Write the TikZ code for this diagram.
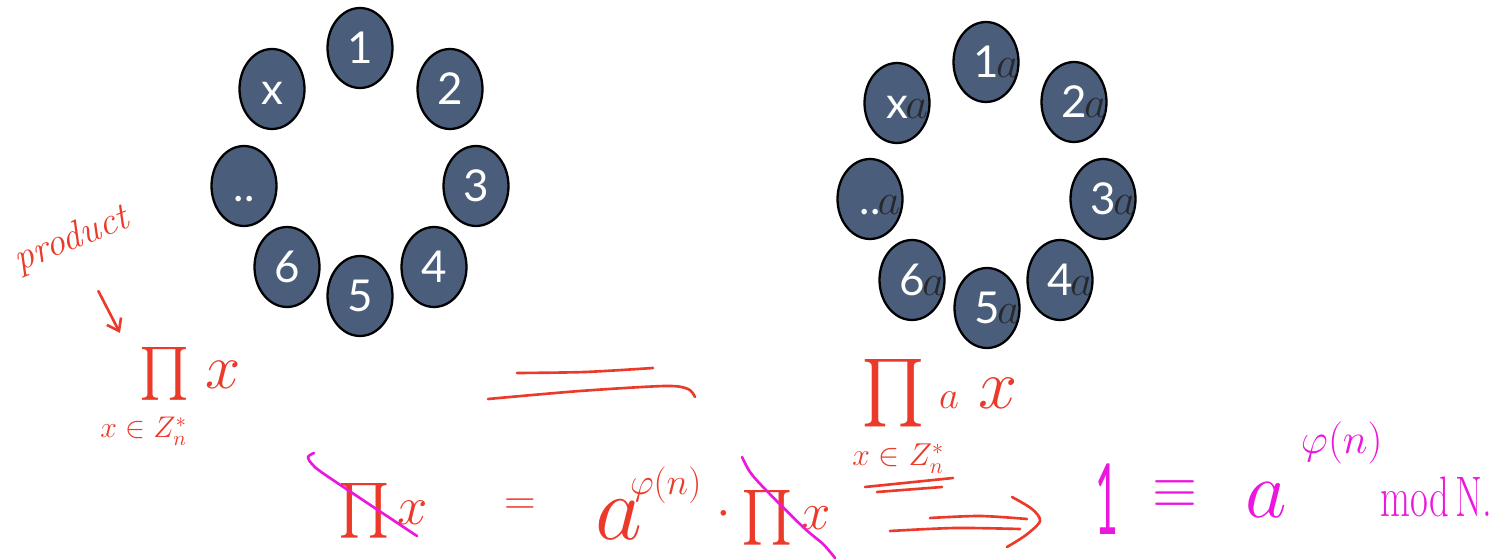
\RequirePackage{fix-cm}
\documentclass[tikz,border=0pt]{standalone}
\usepackage{exscale}
\usepackage{fontspec}
\setsansfont{Lato}
\usepackage{tikz}
\usetikzlibrary{arrows.meta,shapes.geometric}
\definecolor{slate}{RGB}{74,94,124}
\definecolor{pred}{RGB}{236,58,42}
\definecolor{pmag}{RGB}{236,22,222}
\definecolor{aink}{RGB}{40,40,44}
\newcommand{\fsz}[1]{\fontsize{#1}{#1}\selectfont}
\newcommand{\numa}[1]{#1\rlap{\kern-1.5pt\textcolor{aink}{$a$}}}
\newcommand{\bigP}[1]{\scalebox{#1}{\fsz{20}$\prod$}}

\begin{document}
\begin{tikzpicture}[x=0.02cm, y=-0.02cm,
  ring/.style={ellipse, draw=black, line width=1.3pt, fill=slate, minimum width=1.3cm, minimum height=1.6cm, inner sep=0pt, text=white, font=\sffamily\fsz{25}, text height=18pt, text depth=0pt},
  hand/.style={text=pred, inner sep=0pt}, mhand/.style={text=pmag, inner sep=0pt},
  pen/.style={draw=pred, line width=1.5pt, line cap=round, line join=round}, mpen/.style={pen, draw=pmag},
  arr/.style={-{Straight Barb[length=2.2mm, width=3.2mm]}}]
  \useasboundingbox (0,0) rectangle (1512,560);
  % left ring
  \node[ring] (l1) at (360,48) {1};
  \node[ring] (l2) at (450,89) {2};
  \node[ring] (l3) at (476,186) {3};
  \node[ring] (l4) at (434,267) {4};
  \node[ring] (l5) at (360,296) {5};
  \node[ring] (l6) at (287,267) {6};
  \node[ring] (ldots) at (244,186) {..};
  \node[ring] (lx) at (272,89) {x};
  % right ring, each times a
  \node[ring] (r1) at (986,62) {\numa{1}};
  \node[ring] (r2) at (1074,102) {\numa{2}};
  \node[ring] (r3) at (1103,199) {\numa{3}};
  \node[ring] (r4) at (1060,280) {\numa{4}};
  \node[ring] (r5) at (987,308) {\numa{5}};
  \node[ring] (r6) at (912,280) {\numa{6}};
  \node[ring] (rdots) at (870,199) {\numa{..}};
  \node[ring] (rx) at (897,103) {\numa{x}};
  % red ink
  \node[hand, rotate=22, font=\itshape\fsz{22}] (product) at (72,240) {product};
  \coordinate (tip) at (120,333);
  \draw[pen, arr, shorten <=0.8cm] (product) -- (tip);
  \node[hand, anchor=base west] (prodL) at (139,387) {\bigP{1.45}\hspace{9pt}\raisebox{-1pt}{\fsz{36}$x$}};
  \node[hand, anchor=base west, font=\fsz{17}] (subL) at (100,438) {$x\in Z_n^*$};
  \draw[pen] plot[smooth] coordinates {(517,373) (585,372) (653,368)};
  \draw[pen] plot[smooth] coordinates {(488,399) (580,391) (665,386) (688,389) (695,397)};
  \node[hand, anchor=base west] (prodR) at (861,409) {\bigP{1.85}\hspace{8pt}{\fsz{22}$a$}\hspace{11pt}{\fsz{40}$x$}};
  \node[hand, anchor=base west] (prodA) at (338,524) {\bigP{1.5}\hspace{4.5pt}{\fsz{31}$x$}};
  \node[hand, font=\fsz{25}] (eqA) at (520,507) {$=$};
  \node[hand, anchor=base west, font=\fsz{52}] (powA) at (595,540) {$a^{\kern-7pt\raisebox{7pt}{\fsz{21}$\varphi(n)$}}$};
  \node[hand, font=\fsz{30}] (dotA) at (724,515) {$\cdot$};
  \node[hand, anchor=base west] (prodB) at (741,531) {\bigP{1.5}\hspace{5pt}\raisebox{1pt}{\fsz{30}$x$}};
  \node[hand, anchor=base west, font=\fsz{18}] (subB) at (852,466) {$x\in Z_n^*$};
  \draw[pen] (865,487) -- (953,478);
  \draw[pen] (877,492) -- (942,487);
  \draw[pen] plot[smooth] coordinates {(930,518) (980,516) (1027,519)};
  \draw[pen] plot[smooth] coordinates {(890,531) (955,528) (1020,529)};
  \draw[pen] plot[smooth] coordinates {(1012,497) (1032,509) (1040,521) (1026,535) (1007,547)};
  % magenta ink
  \draw[mpen] plot[smooth] coordinates {(314,453) (308,457) (312,464) (327,476) (417,536)};
  \draw[mpen] plot[smooth] coordinates {(742,457) (750,472) (764,488) (803,527) (823,544) (835,558)};
  \node[mhand, anchor=base, font=\sffamily\fsz{56}] (one) at (1107,535) {\scalebox{0.4}[1]{1}};
  \node[mhand, font=\fsz{33}] (equiv) at (1175,494) {$\equiv$};
  \node[mhand, anchor=base west, font=\fsz{46}] (powB) at (1245,518) {$a^{\kern8pt\raisebox{20pt}{\fsz{24}$\varphi(n)$}}$};
  \node[mhand, anchor=base west, font=\fsz{26}] (modN) at (1380,517) {\scalebox{0.85}[1.25]{mod\,N.}};
\end{tikzpicture}
\end{document}
